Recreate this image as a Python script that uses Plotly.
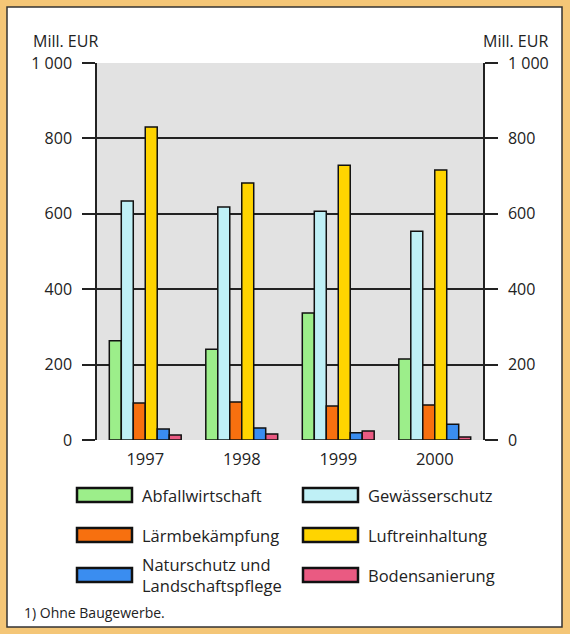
import plotly.graph_objects as go

years = ["1997", "1998", "1999", "2000"]
series_names = [
    "Abfallwirtschaft",
    "Gewässerschutz",
    "Lärmbekämpfung",
    "Luftreinhaltung",
    "Naturschutz und<br>Landschaftspflege",
    "Bodensanierung",
]
abfall = [263, 241, 337, 215]
gewaesser = [634, 618, 607, 554]
laerm = [98, 101, 90, 93]
luft = [830, 682, 729, 716]
natur = [29, 32, 19, 42]
boden = [13, 16, 24, 8]
series_values = [abfall, gewaesser, laerm, luft, natur, boden]
colors = ["#9cee8a", "#bff0f6", "#f7700f", "#ffd400", "#3a8df0", "#ea5a82"]

y_ticks = [0, 200, 400, 600, 800, 1000]
y_ticktext = ["0", "200", "400", "600", "800", "1 000"]

W, H = 570, 634
L, R, T, B = 97, 483, 63, 440  # plot area in pixels


def px_x(px):
    return (px - L) / (R - L)


def px_y(py):
    return (B - py) / (B - T)


font = "Open Sans"
ink = "#222222"
frame = "#f4c677"
fig = go.Figure()

for name, vals, col in zip(series_names, series_values, colors):
    fig.add_trace(
        go.Bar(
            x=years,
            y=vals,
            name=name,
            marker=dict(color=col, line=dict(color="#111111", width=1.5)),
            showlegend=False,
        )
    )

# invisible trace for the right axis
fig.add_trace(
    go.Scatter(x=years, y=[0, 0, 0, 0], yaxis="y2", mode="markers",
               marker=dict(opacity=0), showlegend=False, hoverinfo="skip")
)

axis_common = dict(
    range=[0, 1000],
    tickvals=y_ticks,
    ticktext=y_ticktext,
    ticks="outside",
    ticklen=13,
    tickwidth=1.5,
    tickcolor=ink,
    ticklabelstandoff=7,
    tickfont=dict(family=font, size=16, color=ink),
    showgrid=True,
    gridcolor=ink,
    gridwidth=1.5,
    zeroline=False,
    showline=True,
    linecolor=ink,
    linewidth=1.5,
    fixedrange=True,
)


def strip(x0, x1, y0, y1):
    return dict(type="rect", xref="paper", yref="paper",
                x0=px_x(x0), x1=px_x(x1), y0=px_y(y0), y1=px_y(y1),
                fillcolor=frame, line=dict(width=0), layer="above")


shapes = [
    strip(-2, 7, -2, 640),
    strip(562, 575, -2, 640),
    strip(-2, 575, -2, 7),
    strip(-2, 575, 627, 640),
    dict(type="rect", xref="paper", yref="paper",
         x0=px_x(7), x1=px_x(562), y0=px_y(7), y1=px_y(627),
         line=dict(color="#333333", width=1.5), layer="above"),
]
annotations = [
    dict(text="Mill. EUR", x=px_x(31), y=px_y(41), xref="paper", yref="paper",
         xanchor="left", yanchor="middle", showarrow=False,
         font=dict(family=font, size=16, color=ink)),
    dict(text="Mill. EUR", x=px_x(550), y=px_y(41), xref="paper", yref="paper",
         xanchor="right", yanchor="middle", showarrow=False,
         font=dict(family=font, size=16, color=ink)),
    dict(text="1) Ohne Baugewerbe.", x=px_x(22), y=px_y(612), xref="paper",
         yref="paper", xanchor="left", yanchor="middle", showarrow=False,
         font=dict(family=font, size=14, color=ink)),
]

# legend drawn by hand: two columns, three rows
legend_pos = [(77, 495), (303, 495), (77, 535), (303, 535), (77, 575), (303, 575)]
for (lx, ly), name, col in zip(legend_pos, series_names, colors):
    shapes.append(dict(
        type="rect", xref="paper", yref="paper",
        x0=px_x(lx), x1=px_x(lx + 55), y0=px_y(ly - 7), y1=px_y(ly + 7),
        fillcolor=col, line=dict(color="#111111", width=2.5)))
    annotations.append(dict(
        text=name, x=px_x(lx + 63), y=px_y(ly), xref="paper", yref="paper",
        xanchor="left", yanchor="middle", align="left", showarrow=False,
        font=dict(family=font, size=16.5, color=ink)))

fig.update_layout(
    width=W,
    height=H,
    margin=dict(l=L, r=W - R, t=T, b=H - B),
    paper_bgcolor="white",
    plot_bgcolor="#e2e2e2",
    barmode="group",
    bargap=0.255,
    bargroupgap=0,
    showlegend=False,
    xaxis=dict(
        showgrid=False,
        ticks="",
        ticklabelstandoff=7,
        tickfont=dict(family=font, size=16.5, color=ink),
        showline=False,
        fixedrange=True,
    ),
    yaxis=axis_common,
    yaxis2=dict(axis_common, overlaying="y", side="right", showgrid=False),
    shapes=shapes,
    annotations=annotations,
)

fig.write_html(
    "out.html",
    config={"displayModeBar": False},
    post_script="document.body.style.margin='0';",
)
